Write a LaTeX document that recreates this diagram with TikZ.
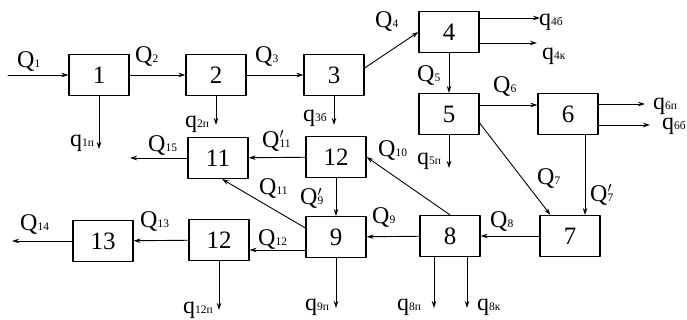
\documentclass[tikz,border=0pt]{standalone}
\usepackage{fontspec}
\setmainfont{Liberation Serif}
\usetikzlibrary{arrows.meta}
\newcommand\sbs[1]{{\fontsize{11.5}{12}\selectfont #1}}
\newcommand\Qi[1]{Q\sbs{#1}}
\newcommand\qi[1]{q\sbs{#1}}
\newcommand\Qpr[1]{Q\rlap{\raisebox{9pt}{\fontsize{15}{15}\selectfont$\prime$}}\sbs{#1}}

\begin{document}
\begin{tikzpicture}[x=1pt,y=-1pt,line cap=round,line join=round,
  blk/.style={draw,line width=1.2pt,minimum width=60pt,minimum height=41pt,inner sep=0pt,font=\fontsize{25}{28}\selectfont},
  flow/.style={line width=0.9pt,-{Stealth[length=7pt,width=4.5pt]}},
  lbl/.style={anchor=base west,inner sep=0pt,font=\fontsize{24}{27}\selectfont}]
\path[use as bounding box] (0,0) rectangle (687,320);
\node[blk] (b1) at (99,75) {1};
\node[blk] (b2) at (216,75) {2};
\node[blk] (b3) at (334,75) {3};
\node[blk] (b4) at (449,32) {4};
\node[blk] (b5) at (449,114) {5};
\node[blk] (b6) at (568,114) {6};
\node[blk] (b12a) at (336,157) {12};
\node[blk] (b11) at (218,158) {11};
\node[blk] (b7) at (570,236) {7};
\node[blk] (b8) at (450,236) {8};
\node[blk] (b9) at (336,237) {9};
\node[blk] (b12b) at (219,240) {12};
\node[blk] (b13) at (103,241) {13};
\coordinate (in1) at (8,75);
\coordinate (o1) at (99,149);
\coordinate (o2) at (216,125);
\coordinate (o3) at (334,125);
\coordinate (o4b) at (540,18);
\coordinate (o4k) at (537,43);
\coordinate (o5) at (449,168);
\coordinate (o6p) at (645,104);
\coordinate (o6b) at (650,125);
\coordinate (o8p) at (434,308);
\coordinate (o8k) at (467,308);
\coordinate (o9) at (336,308);
\coordinate (o12) at (219,310);
\coordinate (o14) at (12,241);
\coordinate (o15) at (130,158);
\draw[flow] (in1) -- (b1);
\draw[flow] (b1) -- (b2);
\draw[flow] (b2) -- (b3);
\draw[flow] ([yshift=7pt]b3.east) -- (b4.west);
\draw[flow] ([yshift=14pt]b4.east) -- (o4b);
\draw[flow] ([yshift=-11pt]b4.east) -- (o4k);
\draw[flow] (b4) -- (b5);
\draw[flow] ([yshift=9pt]b5.east) -- ([yshift=9pt]b6.west);
\draw[flow] (b5.south) -- (o5);
\draw[flow] ([yshift=10pt]b6.east) -- (o6p);
\draw[flow] ([yshift=-11pt]b6.east) -- (o6b);
\draw[flow] ([yshift=-9pt]b5.east) -- ([xshift=11pt]b7.north west);
\draw[flow] ([xshift=17pt]b6.south) -- ([xshift=17pt]b6.south |- b7.north);
\draw[flow] (b7) -- (b8);
\draw[flow] (b8) -- (b9);
\draw[flow] ([xshift=-16pt]b8.south) -- (o8p);
\draw[flow] ([xshift=17pt]b8.south) -- (o8k);
\draw[flow] (b8.north) -- (b12a.east);
\draw[flow] (b12a) -- (b9);
\draw[flow] ([yshift=9pt]b9.west) -- ([xshift=4pt]b11.south);
\draw[flow] (b12a) -- (b11);
\draw[flow] (b11.west) -- (o15);
\draw[flow] ([yshift=-13pt]b9.west) -- ([yshift=-13pt]b9.west -| b12b.east);
\draw[flow] (b12b) -- (b13);
\draw[flow] (b13.west) -- (o14);
\draw[flow] (b12b.south) -- (o12);
\draw[flow] (b9.south) -- (o9);
\draw[flow] (b1.south) -- (o1);
\draw[flow] (b2.south) -- (o2);
\draw[flow] (b3.south) -- (o3);
\node[lbl] (lQ1) at (17,68) {\Qi{1}};
\node[lbl] (lQ2) at (135,63) {\Qi{2}};
\node[lbl] (lQ3) at (255,63) {\Qi{3}};
\node[lbl] (lQ4) at (375,28) {\Qi{4}};
\node[lbl] (lQ5) at (417,82) {\Qi{5}};
\node[lbl] (lQ6) at (493,93) {\Qi{6}};
\node[lbl] (lQ7) at (537,185) {\Qi{7}};
\node[lbl] (lQ7p) at (590,202) {\Qpr{7}};
\node[lbl] (lQ8) at (490,228) {\Qi{8}};
\node[lbl] (lQ9) at (372,223) {\Qi{9}};
\node[lbl] (lQ9p) at (300,205) {\Qpr{9}};
\node[lbl] (lQ10) at (378,157) {\Qi{10}};
\node[lbl] (lQ11) at (259,195) {\Qi{11}};
\node[lbl] (lQ11p) at (262,148) {\Qpr{11}};
\node[lbl] (lQ12) at (258,245) {\Qi{12}};
\node[lbl] (lQ13) at (140,228) {\Qi{13}};
\node[lbl] (lQ14) at (20,230) {\Qi{14}};
\node[lbl] (lQ15) at (148,152) {\Qi{15}};
\node[lbl] (lq1) at (70,147) {\qi{1п}};
\node[lbl] (lq2) at (185,128) {\qi{2п}};
\node[lbl] (lq3) at (303,122) {\qi{3б}};
\node[lbl] (lq4b) at (539,26) {\qi{4б}};
\node[lbl] (lq4k) at (542,60) {\qi{4к}};
\node[lbl] (lq5) at (417,165) {\qi{5п}};
\node[lbl] (lq6p) at (653,110) {\qi{6п}};
\node[lbl] (lq6b) at (662,130) {\qi{6б}};
\node[lbl] (lq8p) at (397,310) {\qi{8п}};
\node[lbl] (lq8k) at (477,310) {\qi{8к}};
\node[lbl] (lq9) at (305,310) {\qi{9п}};
\node[lbl] (lq12) at (183,313) {\qi{12п}};
\end{tikzpicture}
\end{document}
